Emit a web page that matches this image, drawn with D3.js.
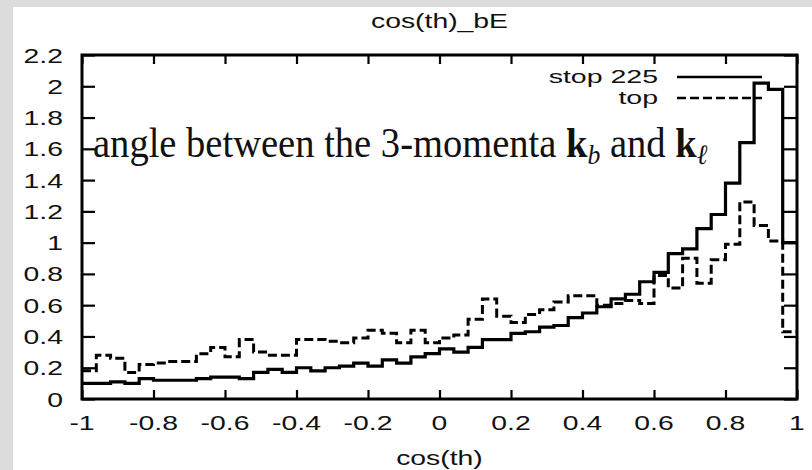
<!DOCTYPE html>
<html>
<head>
<meta charset="utf-8">
<script src="https://cdn.jsdelivr.net/npm/d3@7"></script>
<style>
  html, body { margin: 0; padding: 0; background: #dcdcdc; }
  svg { display: block; }
</style>
</head>
<body>
<svg id="chart" width="812" height="470"></svg>
<script>
// ---- data -------------------------------------------------------------
const chartTitle = "cos(th)_bE";
const xAxisTitle = "cos(th)";
const xTickValues = [-1, -0.8, -0.6, -0.4, -0.2, 0, 0.2, 0.4, 0.6, 0.8, 1];
const yTickValues = [0, 0.2, 0.4, 0.6, 0.8, 1, 1.2, 1.4, 1.6, 1.8, 2, 2.2];
const seriesNames = ["stop 225", "top"];
const binLow = -1;
const binWidth = 0.04;

// normalised counts per bin, 50 bins on [-1, 1]
const stopValues = [
  0.10, 0.10, 0.11, 0.10, 0.13, 0.12, 0.12, 0.12, 0.13, 0.14,
  0.14, 0.13, 0.17, 0.19, 0.17, 0.20, 0.18, 0.20, 0.21, 0.23,
  0.21, 0.25, 0.23, 0.27, 0.29, 0.32, 0.30, 0.33, 0.38, 0.38,
  0.42, 0.43, 0.46, 0.47, 0.52, 0.55, 0.59, 0.64, 0.67, 0.75,
  0.81, 0.93, 0.96, 1.09, 1.18, 1.38, 1.64, 2.02, 1.98, 1.00
];
const topValues = [
  0.18, 0.28, 0.26, 0.17, 0.22, 0.23, 0.24, 0.24, 0.29, 0.33,
  0.27, 0.38, 0.30, 0.28, 0.28, 0.38, 0.38, 0.37, 0.36, 0.39,
  0.44, 0.42, 0.36, 0.44, 0.36, 0.39, 0.41, 0.51, 0.64, 0.53,
  0.49, 0.54, 0.57, 0.62, 0.66, 0.66, 0.60, 0.61, 0.63, 0.61,
  0.79, 0.71, 0.90, 0.74, 0.89, 0.99, 1.26, 1.11, 1.01, 0.43
];

// ---- layout -----------------------------------------------------------
const W = 812, H = 470;
const plot = { left: 82, right: 797, top: 55, bottom: 399 };
const sansFont = "'Liberation Sans', Arial, Helvetica, sans-serif";
const serifFont = "'Liberation Serif', 'Times New Roman', serif";
const stretchX = 1.35;   // wide gnuplot-style lettering
const sansSize = 21;

const svg = d3.select("#chart");

// page backdrop and white sheet
svg.append("rect").attr("width", W).attr("height", H).attr("fill", "#dcdcdc");
svg.append("rect").attr("x", 13).attr("y", 7).attr("width", W - 13).attr("height", H - 7)
  .attr("fill", "#ffffff");

const x = d3.scaleLinear().domain([-1, 1]).range([plot.left, plot.right]);
const y = d3.scaleLinear().domain([0, 2.2]).range([plot.bottom, plot.top]);

function sansText(px, py, str, anchor, size = sansSize, sx = stretchX) {
  return svg.append("text")
    .attr("transform", `translate(${px},${py}) scale(${sx},1)`)
    .attr("text-anchor", anchor)
    .attr("font-family", sansFont)
    .attr("font-size", size)
    .attr("fill", "#111")
    .text(str);
}

// ---- histograms -------------------------------------------------------
function stepPoints(values) {
  const pts = values.map((v, i) => [binLow + i * binWidth, v]);
  pts.push([binLow + values.length * binWidth, values[values.length - 1]]);
  return pts;
}
const stepLine = d3.line()
  .x(d => x(d[0]))
  .y(d => y(d[1]))
  .curve(d3.curveStepAfter);

const plotArea = svg.append("g");
plotArea.append("path")
  .attr("d", stepLine(stepPoints(topValues)))
  .attr("fill", "none").attr("stroke", "#000").attr("stroke-width", 3)
  .attr("stroke-dasharray", "9,4");
plotArea.append("path")
  .attr("d", stepLine(stepPoints(stopValues)))
  .attr("fill", "none").attr("stroke", "#000").attr("stroke-width", 3.2);

// ---- axes (inward ticks on all four sides) ----------------------------
const tickStyle = g => {
  g.select(".domain").remove();
  g.selectAll("text").remove();
  g.selectAll("line").attr("stroke", "#000").attr("stroke-width", 2.2);
};
svg.append("g").attr("transform", `translate(0,${plot.bottom})`)
  .call(d3.axisBottom(x).tickValues(xTickValues).tickSize(-9)).call(tickStyle);
svg.append("g").attr("transform", `translate(0,${plot.top})`)
  .call(d3.axisTop(x).tickValues(xTickValues).tickSize(-9)).call(tickStyle);
svg.append("g").attr("transform", `translate(${plot.left},0)`)
  .call(d3.axisLeft(y).tickValues(yTickValues).tickSize(-13)).call(tickStyle);
svg.append("g").attr("transform", `translate(${plot.right},0)`)
  .call(d3.axisRight(y).tickValues(yTickValues).tickSize(-13)).call(tickStyle);

// frame
svg.append("rect")
  .attr("x", plot.left).attr("y", plot.top)
  .attr("width", plot.right - plot.left).attr("height", plot.bottom - plot.top)
  .attr("fill", "none").attr("stroke", "#000").attr("stroke-width", 3);

// tick labels
xTickValues.forEach(v => sansText(x(v), 430, String(v), "middle"));
yTickValues.forEach(v => sansText(63, y(v) + 7.5, String(v), "end"));

// titles
sansText((plot.left + plot.right) / 2, 28, chartTitle, "middle");
sansText((plot.left + plot.right) / 2, 465, xAxisTitle, "middle");

// ---- legend ----------------------------------------------------------
const legend = [
  { name: seriesNames[0], dash: null, ly: 77 },
  { name: seriesNames[1], dash: "9,4", ly: 98 }
];
legend.forEach(d => {
  sansText(658, d.ly + 6, d.name, "end", 19, 1.5);
  svg.append("line")
    .attr("x1", 677).attr("x2", 762).attr("y1", d.ly).attr("y2", d.ly)
    .attr("stroke", "#000").attr("stroke-width", 2.6)
    .attr("stroke-dasharray", d.dash);
});

// ---- annotation ------------------------------------------------------
const note = svg.append("text")
  .attr("font-family", serifFont)
  .attr("font-size", 42)
  .attr("fill", "#111");
note.append("tspan").text("angle between the 3-momenta ");
note.append("tspan").attr("font-weight", "bold").text("k");
note.append("tspan").attr("font-style", "italic").attr("font-size", 28).attr("dy", 7).text("b");
note.append("tspan").attr("dy", -7).text(" and ");
note.append("tspan").attr("font-weight", "bold").text("k");
note.append("tspan").attr("font-style", "italic").attr("font-size", 28).attr("dy", 7).text("\u2113");
const noteWidth = note.node().getBBox().width;
note.attr("transform", `translate(93,157) scale(${615 / noteWidth},1)`);
</script>
</body>
</html>
